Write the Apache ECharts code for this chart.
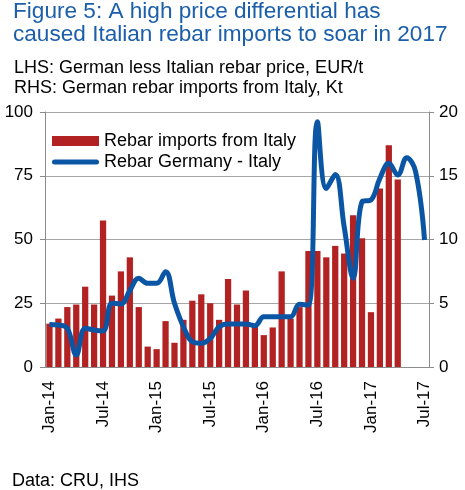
<!DOCTYPE html>
<html>
<head>
<meta charset="utf-8">
<script src="https://cdn.jsdelivr.net/npm/echarts@6/dist/echarts.min.js"></script>
<style>
html, body { margin: 0; padding: 0; background: #fff; }
#chart { width: 465px; height: 490px; }
</style>
</head>
<body>
<div id="chart"></div>
<script>
var FONT = "'Liberation Sans', Arial, sans-serif";

var months = [
    'Jan-14', 'Feb-14', 'Mar-14', 'Apr-14', 'May-14', 'Jun-14', 'Jul-14', 'Aug-14', 'Sep-14', 'Oct-14', 'Nov-14', 'Dec-14',
    'Jan-15', 'Feb-15', 'Mar-15', 'Apr-15', 'May-15', 'Jun-15', 'Jul-15', 'Aug-15', 'Sep-15', 'Oct-15', 'Nov-15', 'Dec-15',
    'Jan-16', 'Feb-16', 'Mar-16', 'Apr-16', 'May-16', 'Jun-16', 'Jul-16', 'Aug-16', 'Sep-16', 'Oct-16', 'Nov-16', 'Dec-16',
    'Jan-17', 'Feb-17', 'Mar-17', 'Apr-17', 'May-17', 'Jun-17', 'Jul-17'
];

// RHS: German rebar imports from Italy, Kt
var importsKt = [
    3.4, 3.8, 4.7, 4.9, 6.3, 4.9, 11.5, 5.6, 7.5, 8.6, 4.7, 1.6,
    1.4, 3.6, 1.9, 3.7, 5.2, 5.7, 5.0, 3.7, 6.9, 4.9, 6.0, 3.3,
    2.5, 3.1, 7.5, 3.8, 4.7, 9.1, 9.1, 8.6, 9.5, 8.9, 11.9, 10.1,
    4.3, 14.0, 17.4, 14.7
];

// LHS: German less Italian rebar price, EUR/t
var priceDiff = [
    16.7, 16.5, 15.2, 4.7, 15.2, 14.5, 14.1, 25, 24.7, 30, 34.8, 32.8,
    32.8, 37.4, 25, 15.8, 9.9, 9.3, 11.2, 15.8, 16.9, 16.9, 16.9, 16.2,
    19.7, 19.7, 19.7, 19.7, 24.6, 24.3, 96.2, 70, 75.5, 55, 34.8, 64.8,
    65.5, 74, 79.9, 75.3, 82.1, 76.6, 49.8
];

var BAR_RED = '#b22222';
var LINE_BLUE = '#0a56a4';

var chart = echarts.init(document.getElementById('chart'));

function everySixth(i) {
    return i % 6 === 0;
}

var option = {
    animation: false,
    backgroundColor: '#fff',
    title: [{
        text: 'Figure 5: A high price differential has\ncaused Italian rebar imports to soar in 2017',
        left: 13,
        top: 0,
        padding: 0,
        textStyle: { color: '#1b5ea9', fontSize: 22.6, fontWeight: 'normal', lineHeight: 23, fontFamily: FONT }
    }, {
        text: 'LHS: German less Italian rebar price, EUR/t\nRHS: German rebar imports from Italy, Kt',
        left: 14,
        top: 58,
        padding: 0,
        textStyle: { color: '#000', fontSize: 18, fontWeight: 'normal', lineHeight: 20, fontFamily: FONT }
    }],
    legend: {
        orient: 'vertical',
        left: 52,
        top: 132,
        padding: 0,
        itemWidth: 47,
        itemHeight: 10,
        itemGap: 3,
        symbolKeepAspect: true,
        textStyle: { color: '#000', fontSize: 18, fontFamily: FONT },
        data: [
            { name: 'Rebar imports from Italy', icon: 'rect' },
            {
                name: 'Rebar Germany - Italy',
                icon: 'path://M2.5,0L44.5,0A2.5,2.5,0,0,1,44.5,5L2.5,5A2.5,2.5,0,0,1,2.5,0Z',
                itemStyle: { color: LINE_BLUE, borderWidth: 0 }
            }
        ]
    },
    grid: { left: 45, right: 36, top: 112, bottom: 123 },
    xAxis: {
        type: 'category',
        data: months,
        boundaryGap: true,
        axisLine: { lineStyle: { color: '#8c8c8c' } },
        axisTick: { interval: everySixth, length: 6, lineStyle: { color: '#8c8c8c' } },
        axisLabel: { interval: everySixth, rotate: 90, margin: 14, fontSize: 17, color: '#000', fontFamily: FONT }
    },
    yAxis: [{
        type: 'value',
        min: 0,
        max: 100,
        interval: 25,
        axisLine: { show: true, lineStyle: { color: '#8c8c8c' } },
        axisTick: { show: true, length: 5, lineStyle: { color: '#8c8c8c' } },
        splitLine: { lineStyle: { color: '#a6a6a6' } },
        axisLabel: { margin: 12, fontSize: 17, color: '#000', fontFamily: FONT }
    }, {
        type: 'value',
        position: 'right',
        min: 0,
        max: 20,
        interval: 5,
        axisLine: { show: true, lineStyle: { color: '#8c8c8c' } },
        axisTick: { show: true, length: 5, lineStyle: { color: '#8c8c8c' } },
        splitLine: { show: false },
        axisLabel: { margin: 10, fontSize: 17, color: '#000', fontFamily: FONT }
    }],
    series: [{
        name: 'Rebar imports from Italy',
        type: 'bar',
        yAxisIndex: 1,
        data: importsKt,
        barCategoryGap: '30%',
        itemStyle: { color: BAR_RED }
    }, {
        name: 'Rebar Germany - Italy',
        type: 'line',
        yAxisIndex: 0,
        data: priceDiff,
        smooth: 0.4,
        showSymbol: false,
        symbol: 'none',
        z: 3,
        lineStyle: { width: 5, color: LINE_BLUE },
        itemStyle: { color: LINE_BLUE }
    }],
    graphic: [{
        type: 'text',
        left: 12,
        top: 472,
        style: { text: 'Data: CRU, IHS', fill: '#000', fontSize: 18, fontFamily: FONT }
    }]
};

chart.setOption(option);

window.onresize = chart.resize;
</script>
</body>
</html>
